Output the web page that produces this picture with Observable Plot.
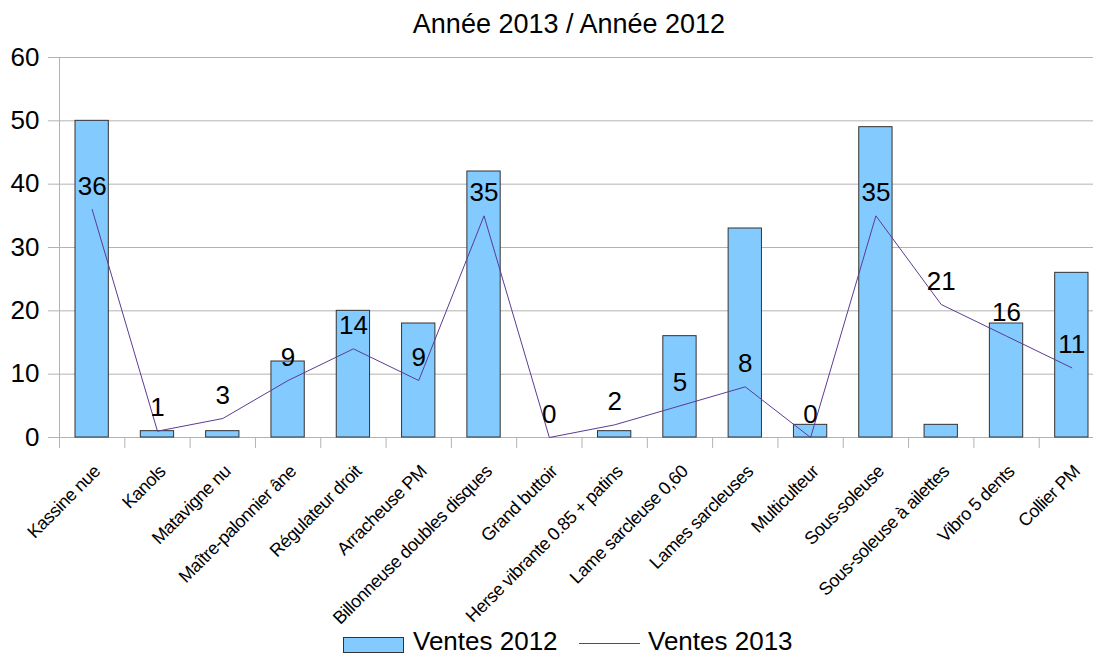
<!DOCTYPE html>
<html>
<head>
<meta charset="utf-8">
<script src="https://cdn.jsdelivr.net/npm/d3@7"></script>
<script src="https://cdn.jsdelivr.net/npm/@observablehq/plot@0.6"></script>
<style>
  html, body { margin: 0; padding: 0; background: #fff; }
  body { width: 1093px; height: 655px; overflow: hidden; font-family: "Liberation Sans", Arial, sans-serif; color: #000; }
  #title { height: 34px; padding-top: 11px; padding-left: 45px; font-size: 27px; line-height: 26px; text-align: center; }
  #chart svg { display: block; overflow: visible; }
  #legend { position: relative; height: 35px; font-size: 26px; line-height: 22px; }
  #legend .sw { position: absolute; left: 343px; top: 17px; width: 59px; height: 14px; background: #83caff; border: 1px solid #333; }
  #legend .ln { position: absolute; left: 579px; top: 23px; width: 61px; height: 0; border-top: 1px solid #5b3b94; }
  #legend .t1 { position: absolute; left: 413px; top: 10px; }
  #legend .t2 { position: absolute; left: 648px; top: 10px; }
</style>
</head>
<body>
<div id="title">Année 2013 / Année 2012</div>
<div id="chart"></div>
<div id="legend">
  <div class="sw"></div><div class="t1">Ventes 2012</div>
  <div class="ln"></div><div class="t2">Ventes 2013</div>
</div>
<script>
const categories = [
  "Kassine nue", "Kanols", "Matavigne nu", "Maître-palonnier âne", "Régulateur droit",
  "Arracheuse PM", "Billonneuse doubles disques", "Grand buttoir", "Herse vibrante 0.85 + patins",
  "Lame sarcleuse 0,60", "Lames sarcleuses", "Multiculteur", "Sous-soleuse",
  "Sous-soleuse à ailettes", "Vibro 5 dents", "Collier PM"
];
const ventes2012 = [50, 1, 1, 12, 20, 18, 42, 0, 1, 16, 33, 2, 49, 2, 18, 26];
const ventes2013 = [36, 1, 3, 9, 14, 9, 35, 0, 2, 5, 8, 0, 35, 21, 16, 11];
const yTicks = [0, 10, 20, 30, 40, 50, 60];

const data = categories.map((c, i) => ({cat: c, v2012: ventes2012[i], v2013: ventes2013[i]}));

const x0 = 59, x1 = 1104;
const step = (x1 - x0) / categories.length;

const chart = Plot.plot({
  width: 1093,
  height: 575,
  marginTop: 12,
  marginBottom: 183,
  marginLeft: 59,
  marginRight: 0,
  style: {fontFamily: "Liberation Sans, Arial, sans-serif", fontSize: "26px", color: "#000", background: "#fff"},
  x: {type: "band", domain: categories, range: [x0, x1], padding: 0, round: false, axis: null},
  y: {domain: [0, 60]},
  marks: [
    Plot.gridY(yTicks, {stroke: "#b3b3b3", strokeOpacity: 1}),
    Plot.axisY(yTicks, {tickSize: 11, tickPadding: 9, stroke: "#b3b3b3", strokeOpacity: 1, fontSize: 26, label: null}),
    Plot.frame({anchor: "left", stroke: "#b3b3b3"}),
    Plot.ruleX(categories, {x: d => d, y1: 0, y2: -1.74, dx: -step / 2, stroke: "#b3b3b3"}),
    Plot.barY(data, {x: "cat", y: "v2012", fill: "#83caff", stroke: "#333", strokeWidth: 1, insetLeft: 16, insetRight: 16}),
    Plot.line(data, {x: "cat", y: "v2013", stroke: "#5b3b94", strokeWidth: 1}),
    Plot.text(data, {x: "cat", y: "v2013", text: d => String(d.v2013), dy: -23, lineAnchor: "middle", fontSize: 26, fill: "#000"}),
    Plot.text(categories, {x: d => d, y: () => 0, text: d => d, rotate: -45, textAnchor: "end", lineAnchor: "middle", dx: 5, dy: 31, fontSize: 18, fill: "#000", className: "xlab"})
  ]
});
chart.querySelectorAll(".xlab text, text.xlab").forEach(t => t.setAttribute("letter-spacing", "-0.45"));
document.getElementById("chart").appendChild(chart);
</script>
</body>
</html>
